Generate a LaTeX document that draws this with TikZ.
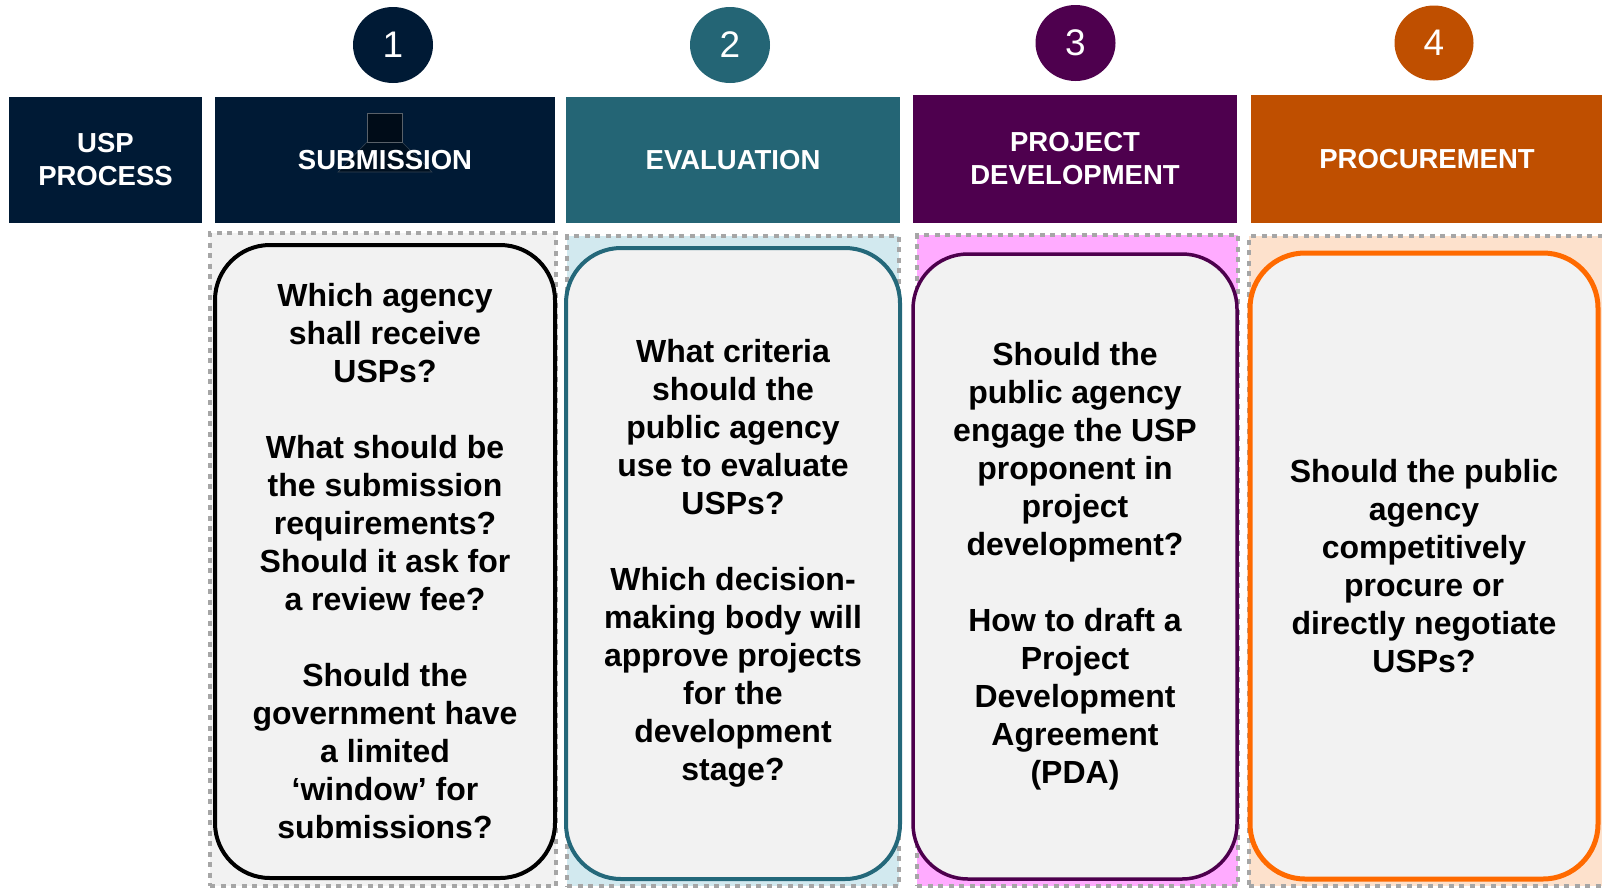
\documentclass[tikz,border=0pt]{standalone}
\usepackage{fontspec}
\setmainfont{Liberation Sans}
\usetikzlibrary{shapes.geometric}
\definecolor{navy}{HTML}{001A35}
\definecolor{tealh}{HTML}{246575}
\definecolor{purph}{HTML}{4E004E}
\definecolor{orangeh}{HTML}{BF4F00}
\definecolor{tealb}{HTML}{24687A}
\definecolor{purpb}{HTML}{4D004D}
\definecolor{orangeb}{HTML}{FF6A00}
\definecolor{qfill}{HTML}{F2F2F2}
\definecolor{fillA}{HTML}{F2F2F2}
\definecolor{fillB}{HTML}{D2E9EF}
\definecolor{fillC}{HTML}{FFABFF}
\definecolor{fillD}{HTML}{FDE1CC}
\definecolor{dotgray}{HTML}{A6A6A6}
\begin{document}
\begin{tikzpicture}[x=1pt,y=-1pt,
  hdr/.style={rectangle, inner sep=0pt, outer sep=0pt, text=white, align=center,
    font=\bfseries\fontsize{27.5}{33}\selectfont},
  numcirc/.style={ellipse, inner sep=0pt, minimum width=80pt, minimum height=76pt,
    text=white, font=\fontsize{37}{40}\selectfont},
  dotbox/.style={rectangle, inner sep=0pt, outer sep=0pt, draw=dotgray,
    line width=4.5pt, dash pattern=on 5pt off 5.5pt},
  qbox/.style={rectangle, rounded corners=55pt, inner sep=0pt, outer sep=0pt,
    fill=qfill, line width=4pt, align=center,
    font=\bfseries\fontsize{32}{38}\selectfont}
]
\useasboundingbox (0,0) rectangle (1602,887);
\fill[white] (0,0) rectangle (1602,887);

% number circles
\node[numcirc, fill=navy] (c1) at (393,45) {1};
\node[numcirc, fill=tealh] (c2) at (730,45) {2};
\node[numcirc, fill=purph] (c3) at (1075.5,43) {3};
\node[numcirc, fill=orangeh, minimum width=79pt, minimum height=75pt] (c4) at (1434,43) {4};

% headers
\node[hdr, fill=navy, minimum width=193pt, minimum height=126pt] (h0) at (105.5,160) {USP\\PROCESS};
\node[hdr, fill=navy, minimum width=340pt, minimum height=126pt] (h1) at (385,160) {};
\fill[fill=black!40!navy, draw=navy!60!gray, line width=0.6pt] (367,142) -- (338,172) -- (432,172) -- (402,142) -- cycle;
\fill[fill=black!55!navy, draw=gray!70!navy, line width=0.6pt] (367,113) rectangle (402,142);
\node[hdr] (h1t) at (385,160) {SUBMISSION};
\node[hdr, fill=tealh, minimum width=334pt, minimum height=126pt] (h2) at (733,160) {EVALUATION};
\node[hdr, fill=purph, minimum width=324pt, minimum height=128pt] (h3) at (1075,159) {PROJECT\\DEVELOPMENT};
\node[hdr, fill=orangeh, minimum width=352pt, minimum height=128pt] (h4) at (1427,159) {PROCUREMENT};

% dotted backgrounds
\node[dotbox, fill=fillA, minimum width=346pt, minimum height=653pt] (d1) at (383,559.5) {};
\node[dotbox, fill=fillB, minimum width=332pt, minimum height=650pt] (d2) at (733,561) {};
\node[dotbox, fill=fillC, minimum width=321pt, minimum height=651pt] (d3) at (1077.5,560.5) {};
\node[dotbox, fill=fillD, minimum width=361pt, minimum height=650pt] (d4) at (1429.5,561) {};

% question boxes
\node[qbox, draw=black, minimum width=340pt, minimum height=633pt] (q1) at (385,561.5)
  {Which agency\\shall receive\\USPs?\\[38pt]What should be\\the submission\\requirements?\\Should it ask for\\a review fee?\\[38pt]Should the\\government have\\a limited\\‘window’ for\\submissions?};
\node[qbox, draw=tealb, minimum width=334pt, minimum height=631pt] (q2) at (733,563.5)
  {What criteria\\should the\\public agency\\use to evaluate\\USPs?\\[38pt]Which decision-\\making body will\\approve projects\\for the\\development\\stage?};
\node[qbox, draw=purpb, line width=3.5pt, minimum width=324pt, minimum height=625pt] (q3) at (1075,566.5)
  {Should the\\public agency\\engage the USP\\proponent in\\project\\development?\\[38pt]How to draft a\\Project\\Development\\Agreement\\(PDA)};
\node[qbox, draw=orangeb, line width=5pt, minimum width=348pt, minimum height=626pt] (q4) at (1424,566)
  {Should the public\\agency\\competitively\\procure or\\directly negotiate\\USPs?};
\end{tikzpicture}
\end{document}
